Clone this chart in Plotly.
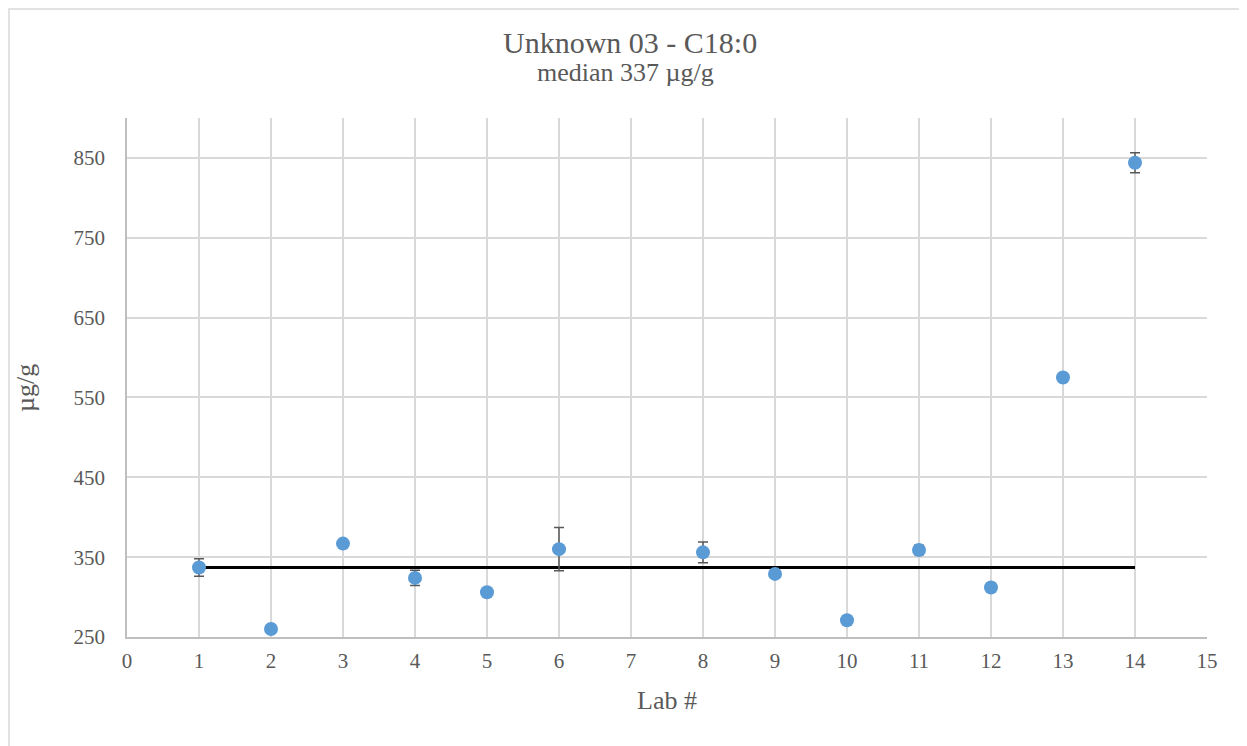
import plotly.graph_objects as go

labs = [1, 2, 3, 4, 5, 6, 8, 9, 10, 11, 12, 13, 14]
values = [337, 260, 367, 324, 306, 360, 356, 329, 271, 359, 312, 575, 844]
errors = [11, 0, 0, 9.5, 0, 27, 13, 0, 0, 6, 5, 0, 12.5]
median_value = 337
median_x = [1, 14]
x_ticks = list(range(0, 16))
y_ticks = [250, 350, 450, 550, 650, 750, 850]

FONT = "'Liberation Serif', 'Times New Roman', 'DejaVu Serif', serif"
GREY = "#595959"

# plot area: 1080 x 519 px
PW, PH = 1080, 519

fig = go.Figure()
fig.add_trace(go.Scatter(
    x=median_x, y=[median_value, median_value], mode="lines",
    line=dict(color="black", width=3), showlegend=False, hoverinfo="skip"))
fig.add_trace(go.Scatter(
    x=labs, y=values, mode="markers",
    marker=dict(color="#5B9BD5", size=14),
    error_y=dict(type="data", array=errors, visible=True,
                 color=GREY, thickness=1.5, width=5),
    showlegend=False))

annotations = [
    dict(text="Unknown 03 - C18:0", xref="paper", yref="paper", x=(630 - 127) / PW, y=1 + 76 / PH,
         xanchor="center", yanchor="middle", showarrow=False,
         font=dict(family=FONT, size=30, color=GREY)),
    dict(text="median 337 µg/g", xref="paper", yref="paper", x=(625 - 127) / PW, y=1 + 46 / PH,
         xanchor="center", yanchor="middle", showarrow=False,
         font=dict(family=FONT, size=26, color=GREY)),
    dict(text="Lab #", xref="paper", yref="paper", x=0.5, y=-63 / PH,
         xanchor="center", yanchor="middle", showarrow=False,
         font=dict(family=FONT, size=26, color=GREY)),
    dict(text="µg/g", xref="paper", yref="paper", x=-101 / PW, y=0.48, textangle=-90,
         xanchor="center", yanchor="middle", showarrow=False,
         font=dict(family=FONT, size=26, color=GREY)),
]

fig.update_layout(
    width=1247, height=746,
    paper_bgcolor="white", plot_bgcolor="white",
    margin=dict(l=119, r=48, t=110, b=117),
    font=dict(family=FONT, color=GREY, size=21),
    xaxis=dict(
        range=[0, 15], tickvals=x_ticks, ticktext=[str(t) for t in x_ticks],
        showgrid=True, gridcolor="#D9D9D9", gridwidth=1.5,
        showline=True, linecolor="#BFBFBF", linewidth=1.5,
        zeroline=False, ticks="", ticklabelstandoff=4,
        tickfont=dict(family=FONT, size=21, color=GREY)),
    yaxis=dict(
        range=[250, 900], tickvals=y_ticks, ticktext=[str(t) for t in y_ticks],
        showgrid=True, gridcolor="#D9D9D9", gridwidth=1.5,
        showline=True, linecolor="#BFBFBF", linewidth=1.5,
        zeroline=False, ticks="", ticklabelstandoff=16,
        tickfont=dict(family=FONT, size=21, color=GREY)),
    annotations=annotations,
    shapes=[dict(type="rect", xref="paper", yref="paper",
                 x0=-118 / PW, x1=1 + 46 / PW, y0=-115 / PH, y1=1 + 109 / PH,
                 line=dict(color="#D9D9D9", width=1.5), layer="below")],
)

fig.write_html("out.html")
